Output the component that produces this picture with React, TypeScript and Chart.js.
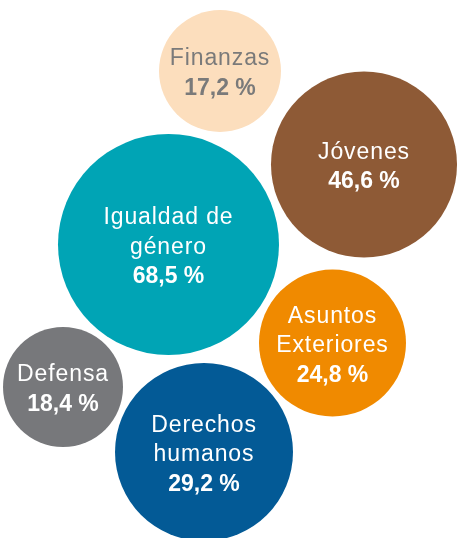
import React, { useEffect, useRef } from "react";
import { Chart, registerables } from "chart.js";

Chart.register(...registerables);

// Categories (lines of each bubble's label)
const categories: string[] = [
  "Finanzas",
  "Jóvenes",
  "Igualdad de\ngénero",
  "Asuntos\nExteriores",
  "Defensa",
  "Derechos\nhumanos",
];

// Share values (%)
const shareValues: number[] = [17.2, 46.6, 68.5, 24.8, 18.4, 29.2];

// Bubble layout in the chart's abstract coordinate space
const bubbleX: number[] = [220, 364, 168.5, 332.5, 63, 204];
const bubbleY: number[] = [71, 164.5, 244.5, 343, 387, 452];
const bubbleSize: number[] = [61, 93, 110.5, 73.5, 60, 89];

const bubbleColors: string[] = ["#FCDEBD", "#8E5A36", "#00A4B5", "#F08A00", "#77787B", "#035A96"];
const labelColors: string[] = ["#7A7A7A", "#FFFFFF", "#FFFFFF", "#FFFFFF", "#FFFFFF", "#FFFFFF"];

const FONT = '"Liberation Sans", Arial, Helvetica, sans-serif';

const formatPct = (v: number) => v.toFixed(1).replace(".", ",") + " %";

const labelPlugin = {
  id: "bubbleLabels",
  afterDatasetsDraw(chart: any) {
    const ctx = chart.ctx;
    const meta = chart.getDatasetMeta(0);
    ctx.save();
    ctx.textAlign = "center";
    ctx.textBaseline = "alphabetic";
    const lh = 29.5;
    meta.data.forEach((el: any, i: number) => {
      const lines = categories[i].split("\n");
      const all = [...lines, formatPct(shareValues[i])];
      const n = all.length;
      all.forEach((txt, j) => {
        const isValue = j === n - 1;
        ctx.font = (isValue ? "bold " : "") + "23px " + FONT;
        (ctx as any).letterSpacing = isValue ? "0px" : "0.9px";
        ctx.fillStyle = labelColors[i];
        const y = el.y + (j - (n - 1) / 2) * lh + 9;
        ctx.fillText(txt, el.x, y);
      });
    });
    (ctx as any).letterSpacing = "0px";
    ctx.restore();
  },
};

export default function App() {
  const ref = useRef<HTMLCanvasElement | null>(null);

  useEffect(() => {
    if (!ref.current) return;
    const chart = new Chart(ref.current, {
      type: "bubble",
      data: {
        datasets: [
          {
            label: "Áreas",
            data: shareValues.map((v, i) => ({ x: bubbleX[i], y: bubbleY[i], r: bubbleSize[i], v })),
            backgroundColor: bubbleColors,
            borderWidth: 0,
            hoverRadius: 0,
            hoverBorderWidth: 0,
            clip: false as any,
          },
        ],
      },
      options: {
        responsive: false,
        animation: false,
        events: [],
        layout: { padding: 0, autoPadding: false },
        plugins: {
          legend: { display: false },
          tooltip: { enabled: false },
          title: { display: false },
        },
        scales: {
          x: { type: "linear", min: 0, max: 458, display: false },
          y: { type: "linear", min: 0, max: 538, reverse: true, display: false },
        },
      },
      plugins: [labelPlugin],
    });
    return () => chart.destroy();
  }, []);

  return (
    <div style={{ position: "absolute", left: 0, top: 0, width: 458, height: 538, background: "#fff" }}>
      <canvas ref={ref} width={458} height={538} style={{ display: "block" }} />
    </div>
  );
}
